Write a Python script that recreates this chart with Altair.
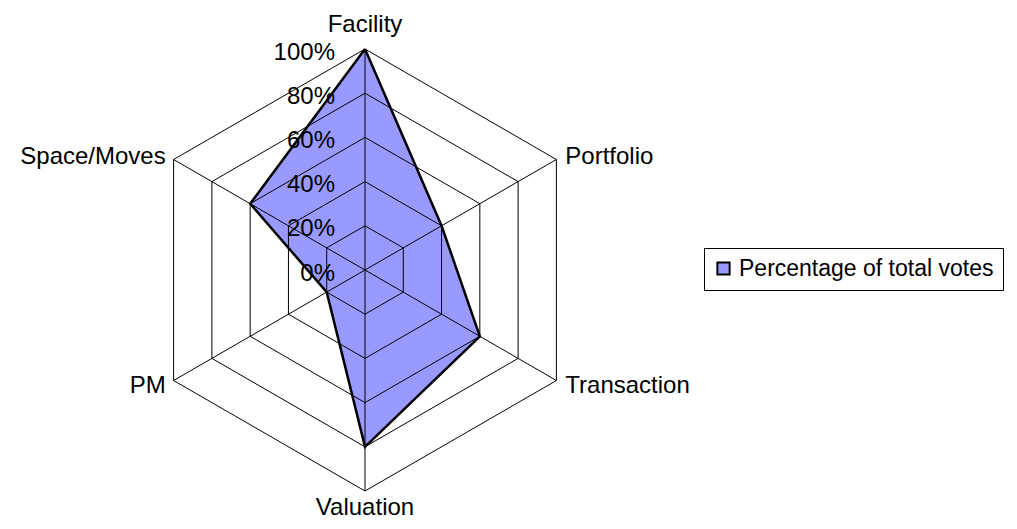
import altair as alt
import pandas as pd

# ---------------- data ----------------
categories = ["Facility", "Portfolio", "Transaction", "Valuation", "PM", "Space/Moves"]
values = [1.0, 0.4, 0.6, 0.8, 0.2, 0.6]
levels = [0.2, 0.4, 0.6, 0.8, 1.0]
tick_values = [0.0, 0.2, 0.4, 0.6, 0.8, 1.0]
tick_labels = ["0%", "20%", "40%", "60%", "80%", "100%"]
series_name = "Percentage of total votes"

# ---------------- layout ----------------
W, H = 1001, 513
CX, CY, R = 357, 262, 221          # centre and radius in pixels
x_dom = [-CX / R, (W - CX) / R]
y_dom = [-(H - CY) / R, CY / R]
FONT = "Liberation Sans"
FILL = "#9999ff"

n = len(categories)
ANG = f"2*PI*datum.idx/{n}"

series_df = pd.DataFrame({
    "category": categories + [categories[0]],
    "idx": list(range(n)) + [n],
    "value": values + [values[0]],
    "series": series_name,
})
grid_df = pd.DataFrame([{"level": l, "idx": i} for l in levels for i in range(n + 1)])
spoke_df = pd.DataFrame({"category": categories, "idx": list(range(n))})
tick_df = pd.DataFrame({"value": tick_values, "label": tick_labels})
label_df = pd.DataFrame({"category": categories, "idx": list(range(n))})

xs = alt.Scale(domain=x_dom, nice=False, zero=False)
ys = alt.Scale(domain=y_dom, nice=False, zero=False)


def X(f):
    return alt.X(f"{f}:Q", scale=xs, axis=None)


def Y(f):
    return alt.Y(f"{f}:Q", scale=ys, axis=None)


poly_base = alt.Chart(series_df).transform_calculate(
    px=f"datum.value*sin({ANG})", py=f"datum.value*cos({ANG})"
)

fill_layer = poly_base.mark_line(strokeOpacity=0, strokeWidth=0).encode(
    x=X("px"), y=Y("py"), order=alt.Order("idx:Q"),
    fill=alt.Fill("series:N",
                  scale=alt.Scale(domain=[series_name], range=[FILL]),
                  legend=alt.Legend(title=None, orient="none",
                                    legendX=696, legendY=240,
                                    symbolType="square", symbolSize=150,
                                    symbolStrokeColor="black", symbolStrokeWidth=2,
                                    symbolFillColor=FILL, symbolOpacity=1,
                                    labelFont=FONT, labelFontSize=23, labelColor="black",
                                    labelOffset=4, labelLimit=1000, padding=9,
                                    symbolOffset=-1,
                                    strokeColor="black", fillColor="white")),
)

grid_layer = alt.Chart(grid_df).transform_calculate(
    gx=f"datum.level*sin({ANG})", gy=f"datum.level*cos({ANG})"
).mark_line(color="black", strokeWidth=1).encode(
    x=X("gx"), y=Y("gy"), detail="level:N", order=alt.Order("idx:Q")
)

spoke_layer = alt.Chart(spoke_df).transform_calculate(
    x0="0", y0="0", x1=f"sin({ANG})", y1=f"cos({ANG})"
).mark_rule(color="black", strokeWidth=1).encode(
    x=X("x0"), y=Y("y0"), x2="x1:Q", y2="y1:Q"
)

outline_layer = poly_base.mark_line(color="black", strokeWidth=2.5, strokeJoin="miter").encode(
    x=X("px"), y=Y("py"), order=alt.Order("idx:Q")
)

tick_layer = alt.Chart(tick_df).transform_calculate(tx="0").mark_text(
    font=FONT, fontSize=24, align="right", baseline="alphabetic", dx=-30, dy=10.5, color="black"
).encode(x=X("tx"), y=Y("value"), text="label:N")

lab_base = alt.Chart(label_df).transform_calculate(
    lx=f"1.036*sin({ANG})", ly=f"1.036*cos({ANG})"
)


def lab(filt, **kw):
    return lab_base.transform_filter(filt).mark_text(
        font=FONT, fontSize=24, baseline="alphabetic", color="black", **kw
    ).encode(x=X("lx"), y=Y("ly"), text="category:N")


lab_top = lab("datum.idx == 0", align="center", dy=-9)
lab_bottom = lab(f"datum.idx == {n // 2}", align="center", dy=16)
lab_right = lab(f"datum.idx > 0 && datum.idx < {n // 2}", align="left", dx=2, dy=8.5)
lab_left = lab(f"datum.idx > {n // 2}", align="right", dx=-1, dy=8.5)

chart = alt.layer(
    fill_layer, grid_layer, spoke_layer, outline_layer,
    tick_layer, lab_top, lab_bottom, lab_right, lab_left
).properties(
    width=W, height=H, padding=0, autosize=alt.AutoSizeParams(type="none"),
    background="white"
).configure_view(stroke=None)

chart.save("out.html", embed_options={"renderer": "svg", "actions": False})
